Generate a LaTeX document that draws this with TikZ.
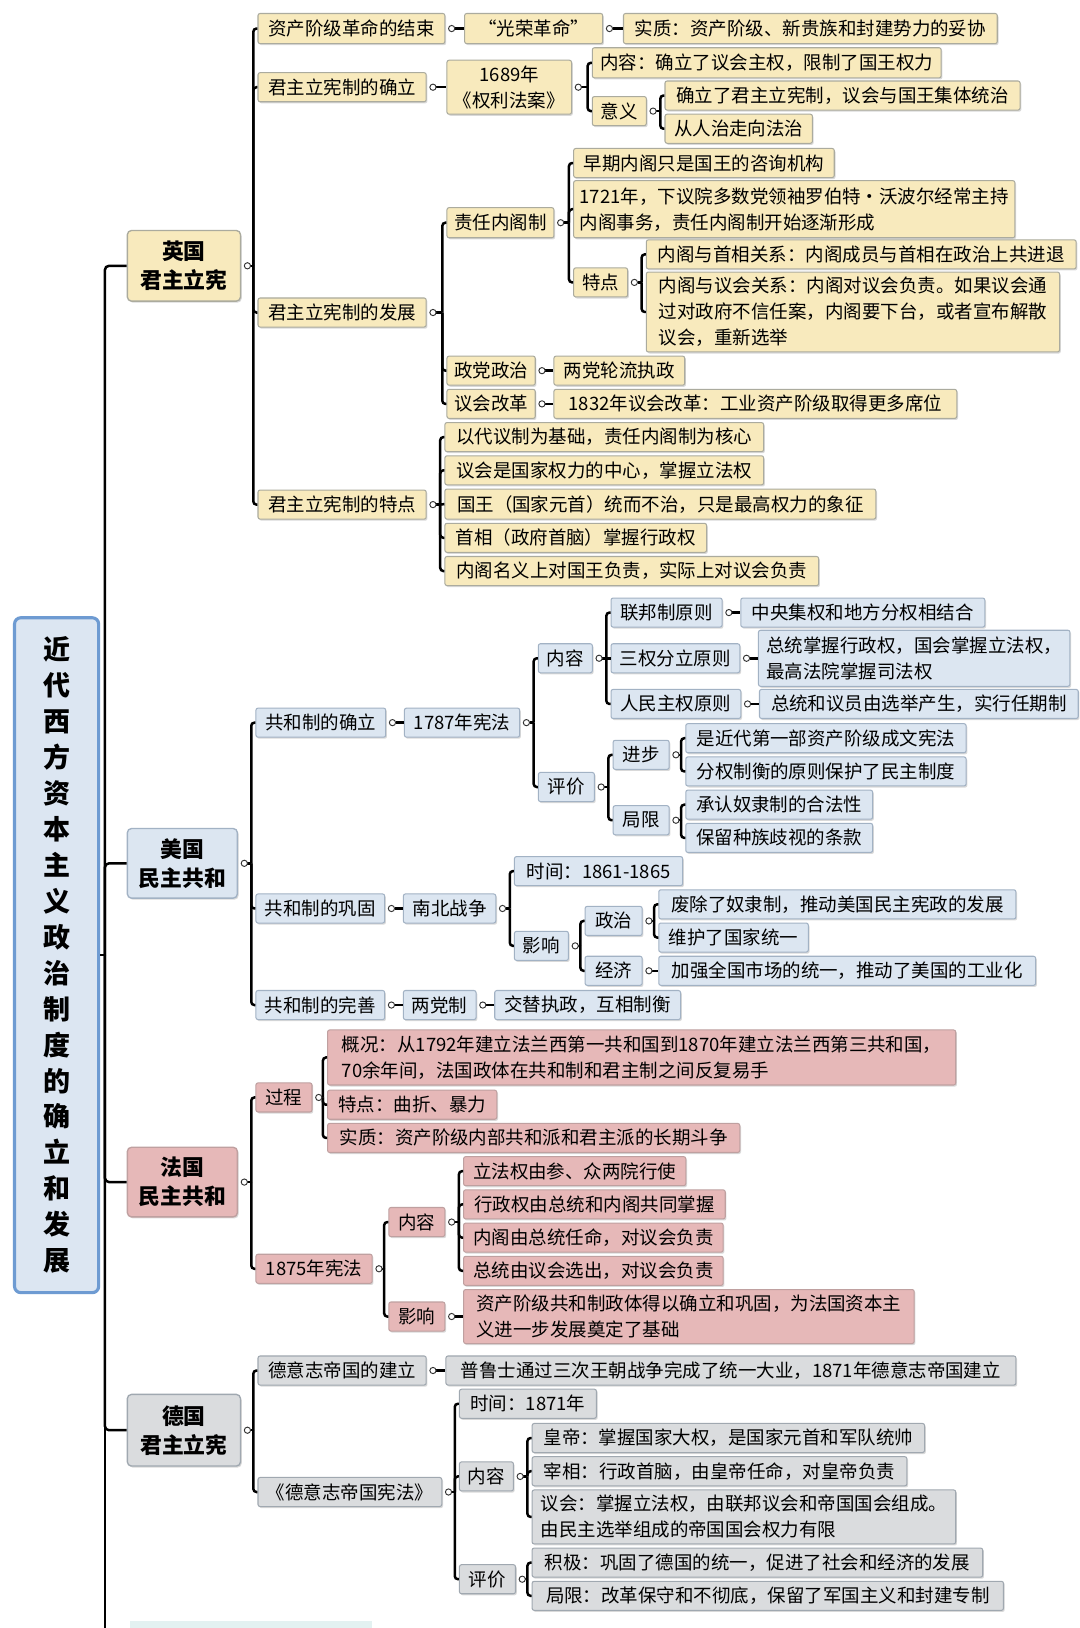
\documentclass[tikz,border=0pt]{standalone}
\usepackage{fontspec}
\setmainfont{Noto Sans CJK SC}
\usetikzlibrary{calc,shadows}
\definecolor{enF}{HTML}{F8EABD}
\definecolor{enD}{HTML}{ABAB9E}
\definecolor{usF}{HTML}{DCE6F1}
\definecolor{usD}{HTML}{A2B2C4}
\definecolor{frF}{HTML}{E6B8B8}
\definecolor{frD}{HTML}{BFA0A0}
\definecolor{deF}{HTML}{DADCDE}
\definecolor{deD}{HTML}{A0A8B0}
\definecolor{rootD}{HTML}{6E9BD2}
\definecolor{rootF}{HTML}{DCE6F2}
\definecolor{nextF}{HTML}{E3F1F1}

\newcommand\bx[7]{%
  \pgfmathsetmacro\bxw{#4-#2}%
  \pgfmathsetmacro\bxh{#5-#3}%
  \pgfmathsetmacro\bxc{(#3+#5)/2}%
  \node[#6, anchor=west, minimum width=\bxw pt, minimum height=\bxh pt] (#1) at (#2,\bxc) {#7};}

\newcommand\br[2]{%
  \path (#1.east); \pgfgetlastxy{\brpx}{\brpy}%
  \foreach \ch in {#2}{%
    \path (\ch.west); \pgfgetlastxy{\brcx}{\brcy}%
    \pgfmathsetmacro\brbx{\brcx-4pt}%
    \pgfmathtruncatemacro\brdif{abs((\brcy)-(\brpy))}%
    \draw[conn] ([xshift=9pt]#1.east) -- (\brbx pt,\brpy);%
    \ifnum\brdif>0
      \draw[conn,rounded corners=3pt] (\brbx pt,\brpy) |- (\ch.west);%
    \else
      \draw[conn] (\brbx pt,\brpy) -- (\ch.west);%
    \fi
  }%
  \draw[dot] ([xshift=6pt]#1.east) circle (3pt);%
}

\begin{document}
\begin{tikzpicture}[x=1pt,y=-1pt,
  base/.style={draw, rounded corners=2pt, line width=1pt, inner sep=0pt,
    font=\fontsize{17.8}{25}\selectfont, align=left,
    drop shadow={shadow xshift=1.2pt, shadow yshift=-1.5pt, fill=black, opacity=0.15}},
  en/.style={base, fill=enF, draw=enD},
  us/.style={base, fill=usF, draw=usD},
  fr/.style={base, fill=frF, draw=frD},
  de/.style={base, fill=deF, draw=deD},
  cty/.style={font=\fontsize{21}{28}\selectfont\bfseries, align=center, rounded corners=4pt, line width=1.3pt},
  rootst/.style={draw=rootD, fill=rootF, line width=3pt, rounded corners=6pt, inner sep=0pt,
    font=\fontsize{26}{34.6}\selectfont\bfseries, align=center},
  conn/.style={line width=2.4pt, draw=black},
  dot/.style={draw=black!80, fill=white, line width=0.9pt}]

\fill[white] (0,0) rectangle (1040,1568);
\useasboundingbox (0,0) rectangle (1040,1568);

% root
\node[rootst, minimum width=81pt, minimum height=650pt] (root) at (54.5,920)
  {近\\代\\西\\方\\资\\本\\主\\义\\政\\治\\制\\度\\的\\确\\立\\和\\发\\展};

% next (cut off) branch
\fill[nextF] (125,1561) rectangle (358,1600);

% ===== England =====
\bx{eng}{122}{222}{231}{290}{en,cty}{英国\\君主立宪}
\bx{e1}{248}{13}{428}{42}{en}{资产阶级革命的结束}
\bx{e11}{447}{13}{580}{42}{en}{“光荣革命”}
\bx{e111}{600}{13}{960}{42}{en}{实质：资产阶级、新贵族和封建势力的妥协}
\bx{e2}{248}{70}{410}{98}{en}{君主立宪制的确立}
\bx{e21}{430}{58}{550}{110}{en,align=center}{1689年\\《权利法案》}
\bx{e211}{570}{46}{906}{75}{en}{内容：确立了议会主权，限制了国王权力}
\bx{e212}{570}{93}{622}{121}{en}{意义}
\bx{e2121}{640}{78}{982}{106}{en}{确立了君主立宪制，议会与国王集体统治}
\bx{e2122}{640}{110}{782}{138}{en}{从人治走向法治}
\bx{e3}{248}{287}{410}{315}{en}{君主立宪制的发展}
\bx{e31}{430}{200}{533}{229}{en}{责任内阁制}
\bx{e311}{552}{143}{803}{171}{en}{早期内阁只是国王的咨询机构}
\bx{e312}{552}{174}{977}{229}{en}{1721年，下议院多数党领袖罗伯特·沃波尔经常主持\\内阁事务，责任内阁制开始逐渐形成}
\bx{e313}{552}{258}{604}{286}{en}{特点}
\bx{e3131}{622}{231}{1036}{259}{en}{内阁与首相关系：内阁成员与首相在政治上共进退}
\bx{e3132}{622}{262}{1020}{339}{en}{内阁与议会关系：内阁对议会负责。如果议会通\\过对政府不信任案，内阁要下台，或者宣布解散\\议会，重新选举}
\bx{e32}{430}{343}{515}{371}{en}{政党政治}
\bx{e321}{533}{343}{659}{371}{en}{两党轮流执政}
\bx{e33}{430}{375}{515}{403}{en}{议会改革}
\bx{e331}{533}{375}{921}{403}{en}{1832年议会改革：工业资产阶级取得更多席位}
\bx{e4}{248}{472}{410}{500}{en}{君主立宪制的特点}
\bx{e41}{428}{407}{735}{435}{en}{以代议制为基础，责任内阁制为核心}
\bx{e42}{428}{439}{735}{467}{en}{议会是国家权力的中心，掌握立法权}
\bx{e43}{428}{471}{843}{500}{en}{国王（国家元首）统而不治，只是最高权力的象征}
\bx{e44}{428}{504}{680}{532}{en}{首相（政府首脑）掌握行政权}
\bx{e45}{428}{536}{788}{564}{en}{内阁名义上对国王负责，实际上对议会负责}

% ===== USA =====
\bx{usa}{122}{798}{228}{865}{us,cty}{美国\\民主共和}
\bx{u1}{246}{682}{371}{710}{us}{共和制的确立}
\bx{u11}{389}{682}{500}{710}{us}{1787年宪法}
\bx{u111}{518}{620}{570}{648}{us}{内容}
\bx{u1111}{588}{576}{695}{604}{us}{联邦制原则}
\bx{u11111}{713}{576}{948}{604}{us}{中央集权和地方分权相结合}
\bx{u1112}{588}{620}{712}{648}{us}{三权分立原则}
\bx{u11121}{730}{607}{1030}{661}{us}{总统掌握行政权，国会掌握立法权，\\最高法院掌握司法权}
\bx{u1113}{588}{664}{713}{692}{us}{人民主权原则}
\bx{u11131}{731}{664}{1038}{692}{us}{总统和议员由选举产生，实行任期制}
\bx{u112}{518}{744}{572}{772}{us}{评价}
\bx{u1121}{590}{713}{644}{741}{us}{进步}
\bx{u11211}{660}{697}{930}{725}{us}{是近代第一部资产阶级成文宪法}
\bx{u11212}{660}{729}{930}{757}{us}{分权制衡的原则保护了民主制度}
\bx{u1122}{590}{776}{644}{804}{us}{局限}
\bx{u11221}{660}{761}{840}{789}{us}{承认奴隶制的合法性}
\bx{u11222}{660}{793}{840}{821}{us}{保留种族歧视的条款}
\bx{u2}{246}{861}{370}{889}{us}{共和制的巩固}
\bx{u21}{388}{861}{477}{889}{us}{南北战争}
\bx{u211}{495}{825}{657}{853}{us}{时间：1861-1865}
\bx{u212}{495}{897}{547}{925}{us}{影响}
\bx{u2121}{563}{873}{618}{901}{us}{政治}
\bx{u21211}{634}{857}{978}{885}{us}{废除了奴隶制，推动美国民主宪政的发展}
\bx{u21212}{634}{889}{778}{917}{us}{维护了国家统一}
\bx{u2122}{563}{921}{618}{949}{us}{经济}
\bx{u21221}{634}{921}{997}{949}{us}{加强全国市场的统一，推动了美国的工业化}
\bx{u3}{246}{954}{370}{982}{us}{共和制的完善}
\bx{u31}{388}{954}{458}{982}{us}{两党制}
\bx{u311}{476}{954}{655}{982}{us}{交替执政，互相制衡}

% ===== France =====
\bx{fra}{122}{1105}{228}{1172}{fr,cty}{法国\\民主共和}
\bx{f1}{246}{1043}{300}{1071}{fr}{过程}
\bx{f11}{315}{992}{920}{1045}{fr}{概况：从1792年建立法兰西第一共和国到1870年建立法兰西第三共和国，\\70余年间，法国政体在共和制和君主制之间反复易手}
\bx{f12}{315}{1050}{478}{1078}{fr}{特点：曲折、暴力}
\bx{f13}{315}{1082}{712}{1110}{fr}{实质：资产阶级内部共和派和君主派的长期斗争}
\bx{f2}{246}{1208}{358}{1236}{fr}{1875年宪法}
\bx{f21}{374}{1163}{428}{1191}{fr}{内容}
\bx{f211}{446}{1114}{660}{1142}{fr}{立法权由参、众两院行使}
\bx{f212}{446}{1146}{698}{1174}{fr}{行政权由总统和内阁共同掌握}
\bx{f213}{446}{1178}{696}{1206}{fr}{内阁由总统任命，对议会负责}
\bx{f214}{446}{1210}{696}{1238}{fr}{总统由议会选出，对议会负责}
\bx{f22}{374}{1254}{428}{1282}{fr}{影响}
\bx{f221}{446}{1242}{880}{1294}{fr}{资产阶级共和制政体得以确立和巩固，为法国资本主\\义进一步发展奠定了基础}

% ===== Germany =====
\bx{ger}{122}{1343}{231}{1412}{de,cty}{德国\\君主立宪}
\bx{g1}{248}{1306}{410}{1334}{de}{德意志帝国的建立}
\bx{g11}{429}{1306}{978}{1334}{de}{普鲁士通过三次王朝战争完成了统一大业，1871年德意志帝国建立}
\bx{g2}{248}{1423}{425}{1451}{de}{《德意志帝国宪法》}
\bx{g21}{442}{1338}{574}{1366}{de}{时间：1871年}
\bx{g22}{442}{1408}{494}{1436}{de}{内容}
\bx{g221}{512}{1371}{890}{1399}{de}{皇帝：掌握国家大权，是国家元首和军队统帅}
\bx{g222}{512}{1403}{873}{1431}{de}{宰相：行政首脑，由皇帝任命，对皇帝负责}
\bx{g223}{512}{1435}{920}{1487}{de}{议会：掌握立法权，由联邦议会和帝国国会组成。\\由民主选举组成的帝国国会权力有限}
\bx{g23}{442}{1507}{496}{1535}{de}{评价}
\bx{g231}{512}{1491}{946}{1519}{de}{积极：巩固了德国的统一，促进了社会和经济的发展}
\bx{g232}{512}{1523}{966}{1551}{de}{局限：改革保守和不彻底，保留了军国主义和封建专制}

% ===== trunk =====
\coordinate (tj) at (101,920);
\coordinate (tend) at (101,1600);
\draw[conn] (root.east) -- (tj);
\foreach \ch in {eng,usa,fra,ger} \draw[conn, rounded corners=4pt] (tj) |- (\ch.west);
\draw[conn] (tj) -- (tend);

% ===== connectors =====
\br{eng}{e1,e2,e3,e4}
\br{e1}{e11}
\br{e11}{e111}
\br{e2}{e21}
\br{e21}{e211,e212}
\br{e212}{e2121,e2122}
\br{e3}{e31,e32,e33}
\br{e31}{e311,e312,e313}
\br{e313}{e3131,e3132}
\br{e32}{e321}
\br{e33}{e331}
\br{e4}{e41,e42,e43,e44,e45}

\br{usa}{u1,u2,u3}
\br{u1}{u11}
\br{u11}{u111,u112}
\br{u111}{u1111,u1112,u1113}
\br{u1111}{u11111}
\br{u1112}{u11121}
\br{u1113}{u11131}
\br{u112}{u1121,u1122}
\br{u1121}{u11211,u11212}
\br{u1122}{u11221,u11222}
\br{u2}{u21}
\br{u21}{u211,u212}
\br{u212}{u2121,u2122}
\br{u2121}{u21211,u21212}
\br{u2122}{u21221}
\br{u3}{u31}
\br{u31}{u311}

\br{fra}{f1,f2}
\br{f1}{f11,f12,f13}
\br{f2}{f21,f22}
\br{f21}{f211,f212,f213,f214}
\br{f22}{f221}

\br{ger}{g1,g2}
\br{g1}{g11}
\br{g2}{g21,g22,g23}
\br{g22}{g221,g222,g223}
\br{g23}{g231,g232}

\end{tikzpicture}
\end{document}
